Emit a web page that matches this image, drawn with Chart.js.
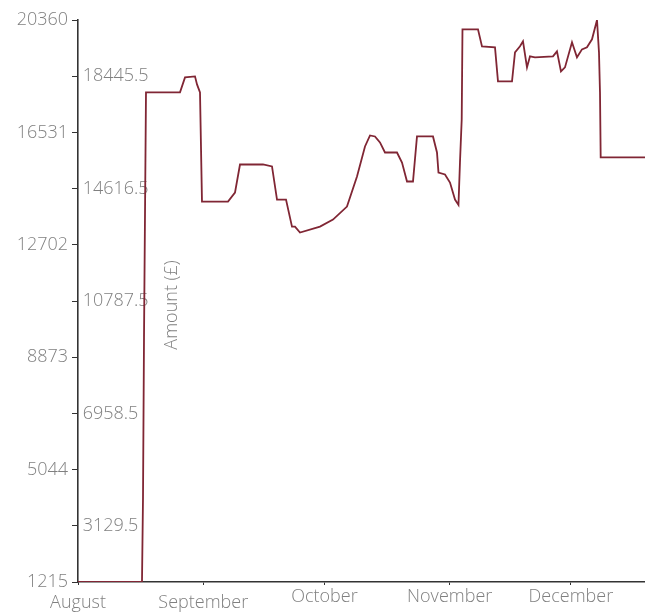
<!DOCTYPE html>
<html>
<head>
<meta charset="utf-8">
<script src="https://cdn.jsdelivr.net/npm/chart.js@4"></script>
<style>
  html, body { margin: 0; padding: 0; background: #fff; }
  canvas { display: block; }
</style>
</head>
<body>
<canvas id="chart" width="645" height="615"></canvas>
<script>
// days counted from 1 August
const days = [0, 15.84, 16.09, 16.34, 16.83, 25.25, 26.49, 28.96, 29.46, 30.20,
  30.69, 37.13, 38.86, 40.10, 45.79, 48.02, 49.26, 51.49, 52.97, 53.71,
  54.95, 59.90, 63.12, 66.58, 69.06, 71.04, 72.28, 73.51, 74.75, 75.99,
  78.96, 80.20, 81.44, 82.92, 83.91, 87.87, 88.86, 89.23, 90.84, 92.08,
  93.32, 94.18, 94.55, 94.98, 95.17, 99.01, 100.0, 103.22, 103.96, 107.43,
  108.17, 109.41, 110.15, 111.14, 111.88, 113.12, 117.57, 118.56, 119.55, 120.54,
  122.28, 123.51, 124.75, 125.99, 127.23, 128.47, 128.96, 129.21, 129.38, 140.35];
const amounts = [1215, 1215, 4080, 9571, 17894, 17894, 18405, 18440, 18167, 17894,
  14176, 14176, 14482, 15438, 15438, 15370, 14244, 14244, 13323, 13323,
  13118, 13323, 13562, 14005, 15029, 16052, 16427, 16393, 16188, 15847,
  15847, 15506, 14858, 14858, 16393, 16393, 15847, 15165, 15097, 14824,
  14244, 14062, 15506, 16973, 20043, 20043, 19463, 19429, 18269, 18269,
  19258, 19463, 19633, 18746, 19122, 19088, 19122, 19292, 18610, 18746,
  19599, 19088, 19360, 19429, 19701, 20360, 19258, 17894, 15677, 15677];

const yTicks = [1215, 3129.5, 5044, 6958.5, 8873, 10787.5, 12702, 14616.5, 16531, 18445.5, 20360];
const outerTicks = [1215, 5044, 8873, 12702, 16531, 20360];
const innerTicks = [3129.5, 6958.5, 10787.5, 14616.5, 18445.5];
const monthTicks = [0, 31, 61, 92, 122];
const monthLabels = ['August', 'September', 'October', 'November', 'December'];
const loweredMonths = ['August', 'September'];

const FONT = 'Open Sans';
const GREY = '#808080';
const AXIS = '#333';

// rotated axis title sits inside the plot
const titlePlugin = {
  id: 'amountTitle',
  afterDraw(chart) {
    const { ctx, chartArea } = chart;
    ctx.save();
    ctx.translate(chartArea.left + 94, (chartArea.top + chartArea.bottom) / 2 + 4);
    ctx.rotate(-Math.PI / 2);
    ctx.font = '300 18px "' + FONT + '"';
    ctx.fillStyle = GREY;
    ctx.textAlign = 'center';
    ctx.textBaseline = 'middle';
    ctx.fillText('Amount (£)', 0, 0);
    ctx.restore();
  }
};

new Chart(document.getElementById('chart'), {
  type: 'line',
  data: {
    datasets: [{
      data: days.map((d, i) => ({ x: d, y: amounts[i] })),
      borderColor: 'rgb(128,38,52)',
      borderWidth: 1.8,
      pointRadius: 0,
      tension: 0,
      fill: false,
      yAxisID: 'y'
    }]
  },
  options: {
    responsive: false,
    animation: false,
    layout: { padding: { top: 20, right: 0, bottom: 0, left: 0 } },
    plugins: { legend: { display: false }, tooltip: { enabled: false } },
    scales: {
      x: {
        type: 'linear',
        min: 0,
        max: 140.35,
        afterBuildTicks: s => { s.ticks = monthTicks.map(v => ({ value: v })); },
        afterFit: s => { s.height = 33; },
        border: { display: true, color: AXIS, width: 1.6 },
        grid: { drawOnChartArea: false, drawTicks: true, tickLength: 3, tickColor: AXIS },
        ticks: {
          autoSkip: false,
          maxRotation: 0,
          padding: 1,
          color: GREY,
          font: c => ({
            family: FONT, size: 18, weight: 300,
            lineHeight: loweredMonths.includes(monthLabels[c.index]) ? 0.64 : 1.2
          }),
          callback: (v, i) => loweredMonths.includes(monthLabels[i]) ? ['', monthLabels[i]] : monthLabels[i]
        }
      },
      y: {
        type: 'linear',
        position: 'left',
        weight: 1,
        min: yTicks[0],
        max: yTicks[yTicks.length - 1],
        afterBuildTicks: s => { s.ticks = yTicks.map(v => ({ value: v })); },
        afterFit: s => { s.width = 78; },
        border: { display: true, color: AXIS, width: 1.6 },
        grid: { drawOnChartArea: false, drawTicks: true, tickLength: 6, tickColor: AXIS },
        ticks: {
          autoSkip: false,
          padding: 4,
          color: GREY,
          font: { family: FONT, size: 18, weight: 300 },
          callback: v => outerTicks.includes(v) ? String(v) : ''
        }
      },
      y2: {
        type: 'linear',
        position: 'left',
        weight: 0,
        min: yTicks[0],
        max: yTicks[yTicks.length - 1],
        afterBuildTicks: s => { s.ticks = innerTicks.map(v => ({ value: v })); },
        afterFit: s => { s.width = 0; },
        border: { display: false },
        grid: { display: false, drawTicks: false },
        ticks: {
          mirror: true,
          autoSkip: false,
          padding: 0,
          color: GREY,
          font: { family: FONT, size: 18, weight: 300 },
          callback: v => ' ' + v
        }
      }
    }
  },
  plugins: [titlePlugin]
});
</script>
</body>
</html>
